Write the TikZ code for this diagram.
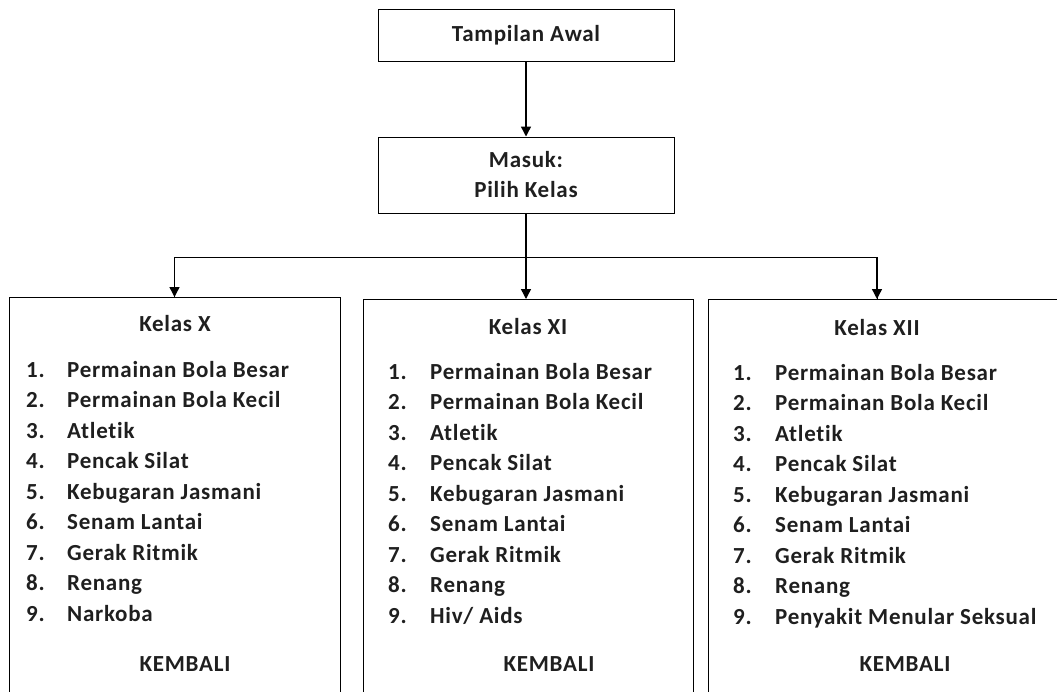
\documentclass[tikz,border=0pt]{standalone}
\usepackage{fontspec}
\setmainfont{Carlito}[LetterSpace=3.2,Ligatures=NoCommon]
\usetikzlibrary{arrows.meta}
\begin{document}
\begin{tikzpicture}[x=1pt,y=-1pt,
    box/.style={draw,rectangle,line width=1pt,inner sep=0pt},
    txt/.style={font=\bfseries\fontsize{23}{30}\selectfont,text=black!88,inner sep=0pt},
    arr/.style={line width=1.4pt,-{Triangle[width=10pt,length=10pt]}}]
  \useasboundingbox (0,0) rectangle (1057,691);
  \clip (0,0) rectangle (1057,691);
  % top boxes
  \node[box,txt,minimum width=296pt,minimum height=52pt] (awal) at (526,35) {Tampilan Awal};
  \node[box,txt,minimum width=296pt,minimum height=76pt,align=center] (masuk) at (526,175) {Masuk:\\Pilih Kelas};
  % class boxes, open below (and right)
  \node[box,minimum width=331pt,minimum height=440pt,anchor=north] (kx) at (174.5,297) {};
  \node[box,minimum width=330pt,minimum height=440pt,anchor=north] (kxi) at (528,299) {};
  \node[box,minimum width=380pt,minimum height=440pt,anchor=north west] (kxii) at (708,299) {};
  \node[txt] (x-title) at (175,324) {Kelas X};
  \node[txt] (xi-title) at (528,327) {Kelas XI};
  \node[txt] (xii-title) at (877,328) {Kelas XII};
  \foreach \col/\nx/\tx/\yy/\last in {x/26/67/377/Narkoba, xi/388/430/379/{Hiv/ Aids}, xii/733/775/380/Penyakit Menular Seksual}{
    \foreach \entry [count=\i] in {Permainan Bola Besar, Permainan Bola Kecil, Atletik, Pencak Silat, Kebugaran Jasmani, Senam Lantai, Gerak Ritmik, Renang, \last}{
      \node[txt,anchor=base west] (\col-n\i) at (\nx,\yy+30.55*\i-30.55) {\i.};
      \node[txt,anchor=base west] (\col-t\i) at (\tx,\yy+30.55*\i-30.55) {\entry};
    }
  }
  \node[txt] (x-back) at (185,664) {KEMBALI};
  \node[txt] (xi-back) at (549,664) {KEMBALI};
  \node[txt] (xii-back) at (905,664) {KEMBALI};
  % connectors
  \coordinate (split) at (526,257);
  \coordinate (xiitop) at (877,299);
  \draw[arr] (awal) -- (masuk);
  \draw[line width=1.4pt] (masuk.south) -- (split);
  \draw[line width=1pt] (split) -| (kx.north);
  \draw[line width=1pt] (split) -| (xiitop);
  \draw[arr] (split -| kx.north) -- (kx.north);
  \draw[arr] (split) -- (split |- kxi.north);
  \draw[arr] (split -| xiitop) -- (xiitop);
\end{tikzpicture}
\end{document}
